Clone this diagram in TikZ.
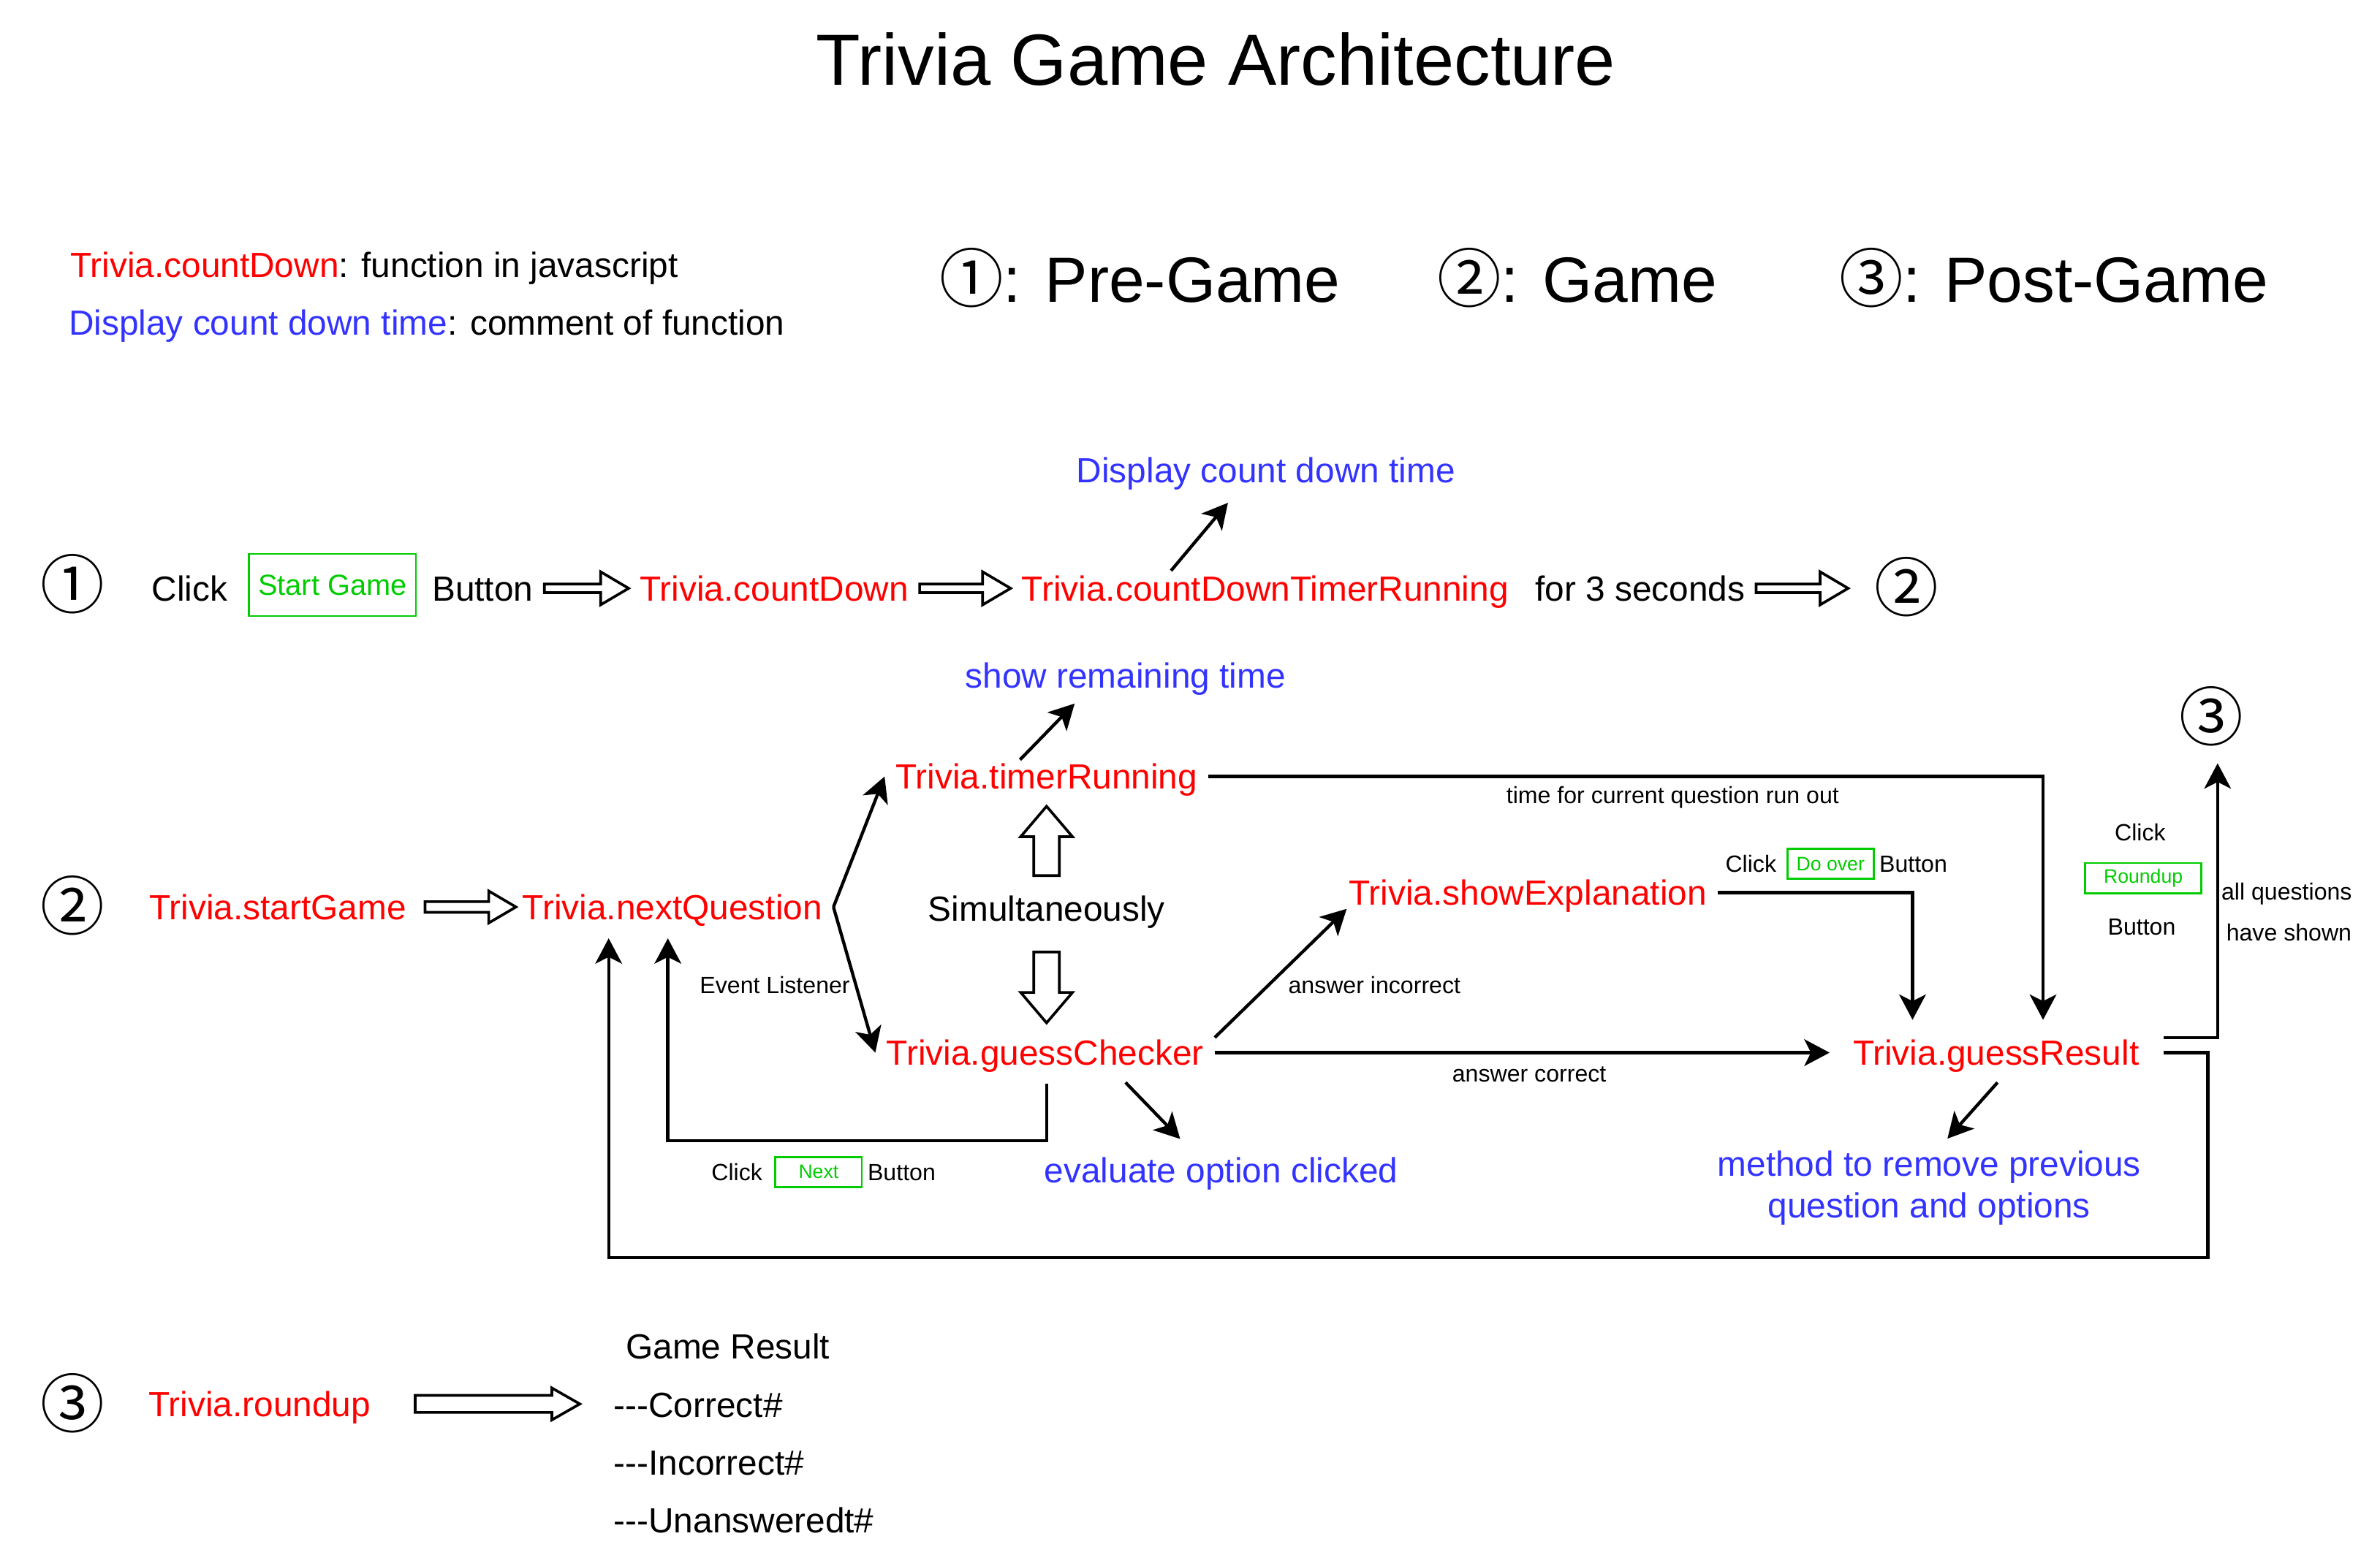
\documentclass[tikz,border=0pt]{standalone}
\usepackage{fontspec}
\setmainfont{Liberation Sans}
\newfontfamily\cjk{Noto Sans CJK SC}
\usepackage{tikz}
\usetikzlibrary{calc,arrows.meta}
\definecolor{tred}{RGB}{255,0,0}
\definecolor{tblue}{RGB}{51,51,255}
\definecolor{tgreen}{RGB}{0,204,0}

\begin{document}
\begin{tikzpicture}[
  x=0.02cm, y=-0.02cm,
  fn/.style={text=tred, font=\fontsize{13.1}{15.7}\selectfont, text height=9.4pt, text depth=0pt, inner sep=4pt},
  cmt/.style={fn, text=tblue},
  tx/.style={fn, text=black},
  sm/.style={font=\fontsize{8.8}{10.5}\selectfont, text height=6.3pt, text depth=0pt, inner sep=2pt},
  btn/.style={draw=tgreen, text=tgreen, line width=0.75pt, font=\fontsize{7.3}{8.8}\selectfont, minimum height=11.4pt, inner sep=0pt},
  num/.style={font=\cjk\fontsize{24}{24}\selectfont, inner sep=0pt},
  big/.style={font=\fontsize{24}{28.8}\selectfont},
  link/.style={line width=1.2pt, -{Stealth[length=9.5pt, width=10pt, inset=2.5pt]}},
  hollow/.style n args={3}{line width=1pt, to path={
    ($(\tikztostart)!#1!90:(\tikztotarget)$)
    -- ($(\tikztotarget)!#3!(\tikztostart)!#1!-90:(\tikztostart)$)
    -- ($(\tikztotarget)!#3!(\tikztostart)!#2!-90:(\tikztostart)$)
    -- (\tikztotarget)
    -- ($(\tikztotarget)!#3!(\tikztostart)!#2!90:(\tikztostart)$)
    -- ($(\tikztotarget)!#3!(\tikztostart)!#1!90:(\tikztostart)$)
    -- ($(\tikztostart)!#1!-90:(\tikztotarget)$) -- cycle}}
]
\useasboundingbox (0,0) rectangle (1568,1032);

% title and key
\node[font=\fontsize{27.2}{32}\selectfont, anchor=base] (ttl) at (801,56) {Trivia Game Architecture};
\node[tx, anchor=west, inner xsep=0pt] (key1) at (46,174.4) {\textcolor{tred}{Trivia.countDown}: function in javascript};
\node[tx, anchor=west, inner xsep=0pt] (key2) at (45,212.4) {\textcolor{tblue}{Display count down time}: comment of function};
\node[big, anchor=base] (lg1) at (751,199) {{\cjk ①}: Pre-Game};
\node[big, anchor=base] (lg2) at (1039,199) {{\cjk ②}: Game};
\node[big, anchor=base] (lg3) at (1353,199) {{\cjk ③}: Post-Game};

% pre-game
\node[num] (c1a) at (48,385) {①};
\node[tx] (ck1) at (125,387.7) {Click};
\node[btn, font=\fontsize{10.9}{13}\selectfont, minimum width=62.6pt, minimum height=23.3pt] (sgb) at (219,385.5) {Start Game};
\node[tx] (bt1) at (318,387.7) {Button};
\node[fn] (cd) at (510,387.7) {Trivia.countDown};
\node[fn] (tcr) at (833.5,387.7) {Trivia.countDownTimerRunning};
\node[cmt] (dcd) at (834,309.7) {Display count down time};
\node[tx] (f3s) at (1080.5,387.7) {for 3 seconds};
\node[num] (c2a) at (1256,387) {②};

\draw[hollow={1.6pt}{6.2pt}{10.5pt}] (bt1.east) to (cd.west);
\draw[hollow={1.6pt}{6.2pt}{10.5pt}] (cd.east) to (tcr.west);
\draw[hollow={1.6pt}{6.2pt}{10.5pt}] (f3s.east) to ($(f3s.east -| c2a.west)+(-17,0)$);
\draw[link] ($(tcr.north)+(-62,4)$) -- ($(dcd.south)+(-25,6)$);

% game
\node[num] (c2b) at (48,597) {②};
\node[fn] (sg) at (183,597.7) {Trivia.startGame};
\node[fn] (nq) at (443,597.7) {Trivia.nextQuestion};
\node[fn] (tr) at (689.5,511.7) {Trivia.timerRunning};
\node[cmt] (srt) at (741.5,445) {show remaining time};
\node[tx] (sim) at (689.5,598.7) {Simultaneously};
\node[fn] (gc) at (688.5,693.7) {Trivia.guessChecker};
\node[cmt] (ev) at (804.5,771.2) {evaluate option clicked};
\node[sm] (el) at (510.5,649) {Event Listener};
\node[sm] (ck2) at (485.5,772.5) {Click};
\node[btn, minimum width=32.4pt] (nxb) at (539.3,772.4) {Next};
\node[sm] (bt2) at (594,772.5) {Button};
\node[fn] (se) at (1006.5,588.3) {Trivia.showExplanation};
\node[sm] (ck3) at (1153.5,569) {Click};
\node[btn, minimum width=32.4pt] (dob) at (1206,569.2) {Do over};
\node[sm] (bt3) at (1260.5,569) {Button};
\node[sm] (tq) at (1102,524) {time for current question run out};
\node[sm] (ai) at (905.5,649.3) {answer incorrect};
\node[sm] (ac) at (1007.5,707.2) {answer correct};
\node[fn] (gr) at (1315,693.7) {Trivia.guessResult};
\node[cmt] (rm1) at (1271,767) {method to remove previous};
\node[cmt] (rm2) at (1271,794.5) {question and options};
\node[num] (c3a) at (1457,472) {③};
\node[sm] (ck4) at (1410,548.5) {Click};
\node[btn, minimum width=43.5pt] (rub) at (1412,578.8) {Roundup};
\node[sm] (bt4) at (1411,610.5) {Button};
\node[sm] (aq1) at (1506.5,587.7) {all questions};
\node[sm] (aq2) at (1508,614.5) {have shown};

\draw[hollow={2pt}{6pt}{10.2pt}] ($(sg.east)+(5,0)$) to ($(nq.west)+(3,0)$);
\draw[hollow={4.8pt}{9.7pt}{11.4pt}] ($(sim.north)+(0,-6)$) to ($(tr.south)+(0,4)$);
\draw[hollow={4.8pt}{9.7pt}{11.4pt}] ($(sim.south)+(0,13)$) to ($(sim.south |- gc.north)+(0,-4)$);
\draw[link] ($(tr.north)+(-17.5,4.6)$) -- ($(srt.south)+(-33.5,3)$);
\draw[link] (nq.east) -- (tr.west);
\draw[link] (nq.east) -- (gc.west);
\draw[link] (tr.east) -| ($(gr.north)+(31,-6)$);
\draw[link] ($(gc.east)+(0,-10)$) -- ($(se.south west)+(6,-5)$);
\draw[link] (gc.east) -- ($(gr.west)+(-8,0)$);
\draw[link] (se.east) -| ($(gr.north)+(-55,-6)$);
\draw[link] ($(gr.south)+(1,4)$) -- ($(rm1.north)+(12,-1)$);
\draw[link] ($(gc.south)+(53,4)$) -- ($(ev.north)+(-27,-5)$);
\draw[link] ($(gc.south)+(1,5)$) -- ++(0,37.5) -| ($(nq.south)+(-3,5)$);
\draw[link] ($(gr.east)+(9,0)$) -- ++(29,0) -- ++(0,135) -| ($(nq.south)+(-42,5)$);
\draw[link] ($(gr.east)+(9,-10)$) -| ($(c3a.south)+(4,11)$);

% post-game
\node[num] (c3b) at (48,924.6) {③};
\node[fn] (ru) at (171,925.2) {Trivia.roundup};
\node[tx, anchor=west, inner xsep=0pt] (grs) at (412,887.4) {Game Result};
\node[tx, anchor=west, inner xsep=0pt] (cor) at (404,925.7) {-{}-{}-Correct\#};
\node[tx, anchor=west, inner xsep=0pt] (inc) at (404,963.7) {-{}-{}-Incorrect\#};
\node[tx, anchor=west, inner xsep=0pt] (una) at (404,1001.7) {-{}-{}-Unansweredt\#};

\draw[hollow={3.2pt}{6pt}{10.5pt}] ($(ru.east)+(22,0)$) to ($(ru.east -| cor.west)+(-22,0)$);
\end{tikzpicture}
\end{document}
